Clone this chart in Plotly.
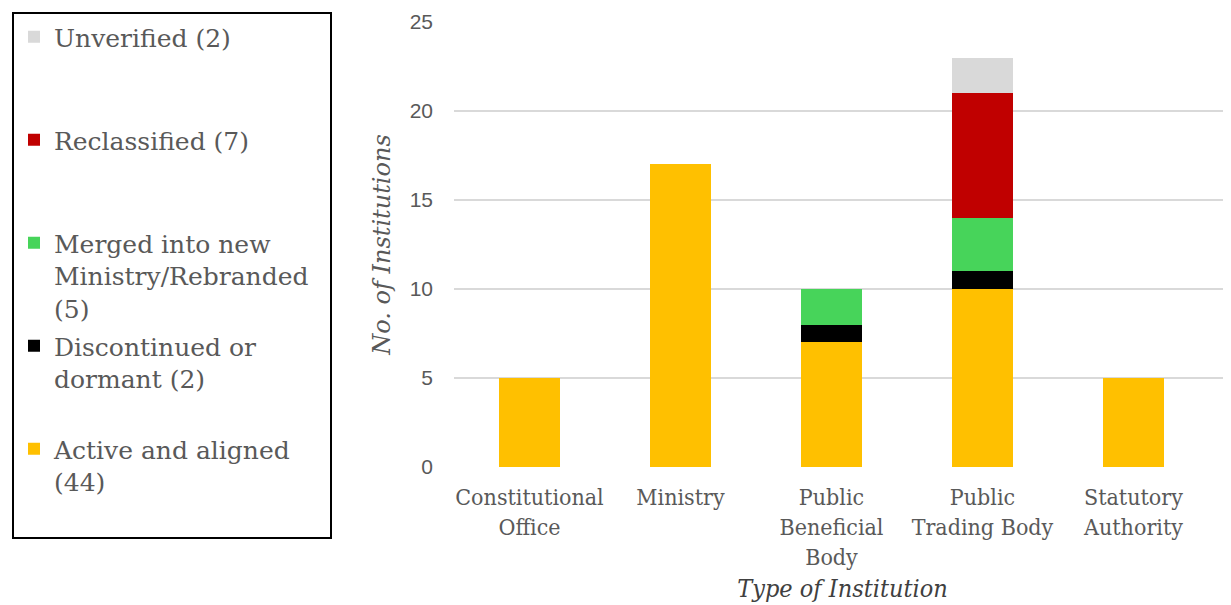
import plotly.graph_objects as go

categories = ["Constitutional<br>Office", "Ministry", "Public<br>Beneficial<br>Body",
              "Public<br>Trading Body", "Statutory<br>Authority"]
active = [5, 17, 7, 10, 5]
discontinued = [0, 0, 1, 1, 0]
merged = [0, 0, 2, 3, 0]
reclassified = [0, 0, 0, 7, 0]
unverified = [0, 0, 0, 2, 0]

NB = "\u00a0"
series = [
    ("Active and aligned<br>(44)<br>" + NB, active, "#FFC000"),
    ("Discontinued or<br>dormant (2)<br>" + NB, discontinued, "#000000"),
    ("Merged into new<br>Ministry/Rebranded" + NB * 2 + "<br>(5)", merged, "#47D45A"),
    ("Reclassified (7)<br>" + NB + "<br>" + NB, reclassified, "#C00000"),
    ("Unverified (2)<br>" + NB + "<br>" + NB, unverified, "#D9D9D9"),
]

fig = go.Figure()
for i, (name, vals, color) in enumerate(series):
    fig.add_trace(go.Bar(
        x=categories, y=vals, name=name, legendgroup=f"g{i}",
        legendrank=len(series) - i,
        marker=dict(color=color, line=dict(width=0)),
    ))

serif = "DejaVu Serif"
# page body has an 8px margin, so figure is offset by 8px
fig.update_layout(
    width=1223, height=605,
    barmode="stack", bargap=0.596,
    plot_bgcolor="white", paper_bgcolor="white",
    margin=dict(l=446, r=0, t=14, b=146),
    legend=dict(
        x=(12 - 454) / 777, xanchor="left", y=1 + 10 / 445, yanchor="top",
        traceorder="grouped", tracegroupgap=2.5, valign="top",
        maxheight=600,
        bordercolor="black", borderwidth=2,
        font=dict(family=serif, size=25, color="#595959"),
    ),
    xaxis=dict(
        range=[-0.5, 4.646], showgrid=False, zeroline=False, showline=False,
        ticklabelstandoff=14,
        tickfont=dict(family="DejaVu Serif Condensed, DejaVu Serif", size=23, color="#595959"),
        title=dict(text="<i>Type of Institution</i>", standoff=10,
                   font=dict(family="DejaVu Serif Condensed, DejaVu Serif", size=25, color="#404040")),
    ),
    yaxis=dict(
        range=[0, 25], dtick=5, showgrid=True, gridcolor="#D9D9D9", gridwidth=1.5,
        zeroline=False, showline=False, ticklabelstandoff=20,
        tickfont=dict(family="Liberation Sans", size=21, color="#595959"),
        title=dict(text="<i>No. of Institutions</i>", standoff=12,
                   font=dict(family=serif, size=24, color="#595959")),
    ),
)

fig.write_html("out.html")
